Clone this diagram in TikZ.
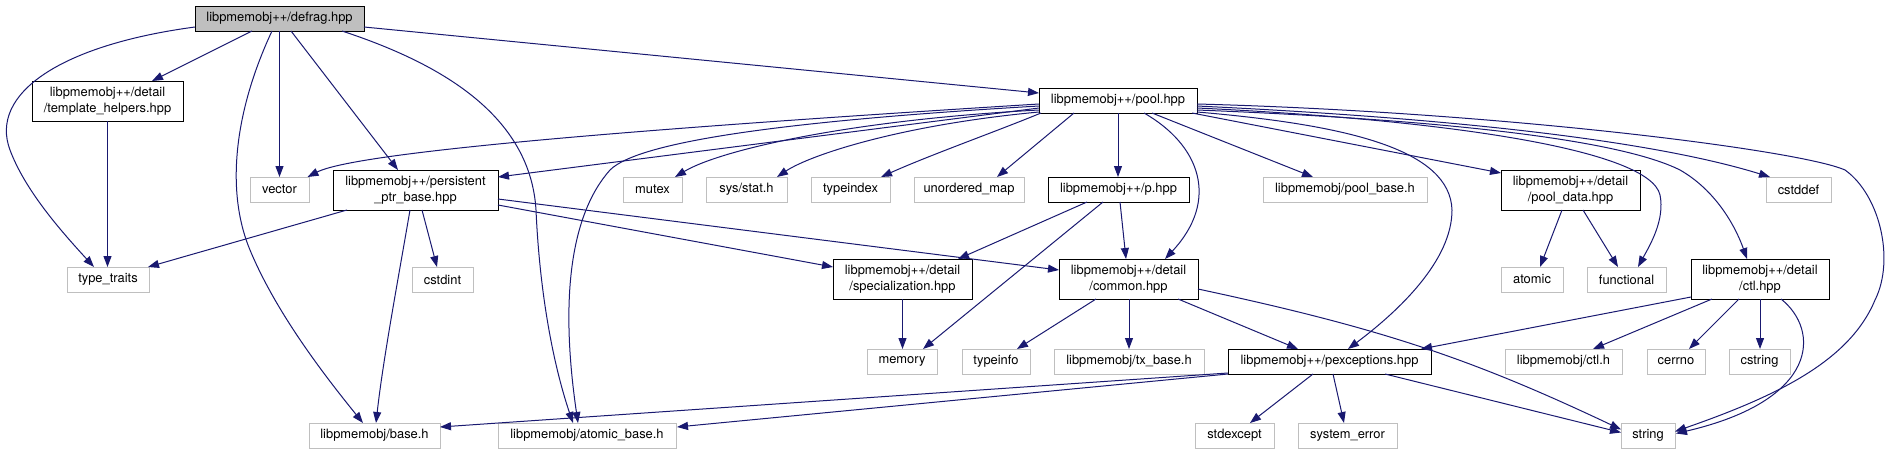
\documentclass[tikz,border=0pt]{standalone}
\usepackage{fontspec}
\setmainfont{TeX Gyre Heros}
\usetikzlibrary{arrows.meta,calc}
\definecolor{edgec}{HTML}{191970}
\definecolor{grayb}{HTML}{BFBFBF}
\begin{document}
\begin{tikzpicture}[x=1pt,y=-1pt,
  box/.style={draw=black, line width=1pt, inner sep=0pt, font=\fontsize{12.9}{16.5}\selectfont, align=center},
  ext/.style={box, draw=grayb},
  edg/.style={draw=edgec, line width=1pt, -{Triangle[length=11pt,width=8pt]}}]
\useasboundingbox (0,0) rectangle (1887,455);
% nodes
\node[box, fill=grayb, minimum width=169pt, minimum height=25pt] (defrag) at (279.5,18.5) {libpmemobj++/defrag.hpp};
\node[box, minimum width=151pt, minimum height=40pt] (tmpl) at (107.5,101) {libpmemobj++/detail\\/template\_helpers.hpp};
\node[ext, minimum width=59pt, minimum height=25pt] (vector) at (279.5,189.5) {vector};
\node[box, minimum width=165pt, minimum height=40pt] (pers) at (415.5,190) {libpmemobj++/persistent\\\_ptr\_base.hpp};
\node[ext, minimum width=82pt, minimum height=25pt] (tt) at (108,279.5) {type\_traits};
\node[ext, minimum width=61pt, minimum height=25pt] (cstdint) at (442.5,279.5) {cstdint};
\node[ext, minimum width=131pt, minimum height=25pt] (base) at (374.5,435.5) {libpmemobj/base.h};
\node[ext, minimum width=59pt, minimum height=25pt] (mutex) at (652.5,189.5) {mutex};
\node[ext, minimum width=81pt, minimum height=25pt] (sysstat) at (746.5,189.5) {sys/stat.h};
\node[ext, minimum width=79pt, minimum height=25pt] (typeindex) at (850.5,189.5) {typeindex};
\node[ext, minimum width=110pt, minimum height=25pt] (umap) at (969,189.5) {unordered\_map};
\node[box, minimum width=139pt, minimum height=40pt] (spec) at (902.5,279) {libpmemobj++/detail\\/specialization.hpp};
\node[ext, minimum width=70pt, minimum height=25pt] (memory) at (902,361.5) {memory};
\node[ext, minimum width=178pt, minimum height=25pt] (abase) at (587,435.5) {libpmemobj/atomic\_base.h};
\node[box, minimum width=158pt, minimum height=25pt] (pool) at (1118,100.5) {libpmemobj++/pool.hpp};
\node[box, minimum width=141pt, minimum height=25pt] (p) at (1118.5,189.5) {libpmemobj++/p.hpp};
\node[ext, minimum width=164pt, minimum height=25pt] (poolbase) at (1345,189.5) {libpmemobj/pool\_base.h};
\node[box, minimum width=139pt, minimum height=40pt] (common) at (1128.5,279) {libpmemobj++/detail\\/common.hpp};
\node[ext, minimum width=68pt, minimum height=25pt] (typeinfo) at (996,361.5) {typeinfo};
\node[ext, minimum width=150pt, minimum height=25pt] (txbase) at (1129,361.5) {libpmemobj/tx\_base.h};
\node[box, minimum width=203pt, minimum height=25pt] (pexc) at (1329.5,361.5) {libpmemobj++/pexceptions.hpp};
\node[ext, minimum width=79pt, minimum height=25pt] (stdexcept) at (1234.5,435.5) {stdexcept};
\node[ext, minimum width=99pt, minimum height=25pt] (syserr) at (1347.5,435.5) {system\_error};
\node[box, minimum width=139pt, minimum height=40pt] (pooldata) at (1570.5,190) {libpmemobj++/detail\\/pool\_data.hpp};
\node[ext, minimum width=65pt, minimum height=25pt] (cstddef) at (1798.5,189.5) {cstddef};
\node[ext, minimum width=62pt, minimum height=25pt] (atomic) at (1532,279.5) {atomic};
\node[ext, minimum width=79pt, minimum height=25pt] (functional) at (1626.5,279.5) {functional};
\node[box, minimum width=138pt, minimum height=40pt] (ctlhpp) at (1760,279) {libpmemobj++/detail\\/ctl.hpp};
\node[ext, minimum width=117pt, minimum height=25pt] (ctlh) at (1563.5,361.5) {libpmemobj/ctl.h};
\node[ext, minimum width=58pt, minimum height=25pt] (cerrno) at (1676,361.5) {cerrno};
\node[ext, minimum width=61pt, minimum height=25pt] (cstring) at (1759.5,361.5) {cstring};
\node[ext, minimum width=54pt, minimum height=25pt] (string) at (1648,435.5) {string};
% edges from defrag
\draw[edg] ($(defrag)+(-27.5,12.5)$) -- ($(tmpl)+(44.5,-20)$);
\draw[edg] ($(defrag)+(0,12.5)$) -- ($(vector)+(0,-12.5)$);
\draw[edg] ($(defrag)+(11.5,12.5)$) -- ($(pers)+(-17.5,-20)$);
\draw[edg] ($(defrag)+(-84.5,8.5)$) .. controls (60,45) and (-11,94) .. (10,150) .. controls (25,190) and (60,230) .. ($(tt)+(-14,-12.5)$);
\draw[edg] ($(defrag)+(-7.5,12.5)$) .. controls (235,110) and (225,190) .. (250,250) .. controls (275,310) and (320,370) .. ($(base)+(-11.5,-12.5)$);
\draw[edg] ($(defrag)+(62.5,12.5)$) .. controls (430,60) and (530,110) .. (536,210) .. controls (540,300) and (555,370) .. ($(abase)+(-14,-12.5)$);
\draw[edg] ($(defrag)+(84.5,8.5)$) -- ($(pool)+(-79,-7.5)$);
% template helpers
\draw[edg] ($(tmpl)+(0,20)$) -- ($(tt)+(-0.5,-12.5)$);
% persistent_ptr_base
\draw[edg] ($(pers)+(-68.5,20)$) -- ($(tt)+(40,-12.5)$);
\draw[edg] ($(pers)+(-5.5,20)$) .. controls (398,280) and (383,360) .. ($(base)+(1.5,-12.5)$);
\draw[edg] ($(pers)+(6.5,20)$) -- ($(cstdint)+(-5.5,-12.5)$);
\draw[edg] ($(pers)+(82.5,15)$) -- ($(spec)+(-69.5,-12)$);
\draw[edg] ($(pers)+(82.5,9)$) -- ($(common)+(-69.5,-9)$);
% pool
\draw[edg] ($(pool)+(-79,3.5)$) .. controls (700,125) and (360,150) .. ($(vector)+(28,-12.5)$);
\draw[edg] ($(pool)+(-79,7.5)$) -- ($(pers)+(82.5,-13)$);
\draw[edg] ($(pool)+(-79,9.5)$) .. controls (850,120) and (720,150) .. ($(mutex)+(22.5,-12.5)$);
\draw[edg] ($(pool)+(-79,11.5)$) .. controls (900,125) and (810,155) .. ($(sysstat)+(30.5,-12.5)$);
\draw[edg] ($(pool)+(-77,12.5)$) .. controls (1000,130) and (930,155) .. ($(typeindex)+(30.5,-12.5)$);
\draw[edg] ($(pool)+(-44,12.5)$) -- ($(umap)+(28,-12.5)$);
\draw[edg] ($(pool)+(0,12.5)$) -- ($(p)+(-0.5,-12.5)$);
\draw[edg] ($(pool)+(26,12.5)$) .. controls (1200,145) and (1220,200) .. ($(common)+(36.5,-20)$);
\draw[edg] ($(pool)+(34,12.5)$) -- ($(poolbase)+(-32,-12.5)$);
\draw[edg] ($(pool)+(74,12.5)$) -- ($(pooldata)+(-69.5,-17)$);
\draw[edg] ($(pool)+(79,7.5)$) .. controls (1450,120) and (1650,150) .. (1660,195) .. controls (1665,220) and (1650,245) .. ($(functional)+(11.5,-12.5)$);
\draw[edg] ($(pool)+(79,9.5)$) .. controls (1450,120) and (1620,140) .. (1680,170) .. controls (1715,190) and (1735,225) .. ($(ctlhpp)+(-13,-20)$);
\draw[edg] ($(pool)+(79,5.5)$) .. controls (1450,118) and (1650,140) .. ($(cstddef)+(-28.5,-12.5)$);
\draw[edg] ($(pool)+(79,3.5)$) .. controls (1500,112) and (1800,150) .. (1845,170) .. controls (1880,195) and (1895,260) .. (1875,300) .. controls (1850,360) and (1780,395) .. ($(string)+(27,-4)$);
\draw[edg] ($(pool)+(79,11.5)$) .. controls (1350,125) and (1450,150) .. (1452,210) .. controls (1452,260) and (1400,310) .. ($(pexc)+(18.5,-12.5)$);
\draw[edg] ($(pool)+(-79,5.5)$) .. controls (800,120) and (640,140) .. (610,170) .. controls (570,215) and (560,300) .. ($(abase)+(-9,-12.5)$);
% p.hpp
\draw[edg] ($(p)+(-31.5,12.5)$) -- ($(spec)+(55.5,-20)$);
\draw[edg] ($(p)+(-15.5,12.5)$) -- ($(memory)+(21,-12.5)$);
\draw[edg] ($(p)+(1.5,12.5)$) -- ($(common)+(-2.5,-20)$);
% specialization
\draw[edg] ($(spec)+(0,20)$) -- ($(memory)+(0.5,-12.5)$);
% common
\draw[edg] ($(common)+(-32.5,20)$) -- ($(typeinfo)+(21,-12.5)$);
\draw[edg] ($(common)+(0.5,20)$) -- ($(txbase)+(0,-12.5)$);
\draw[edg] ($(common)+(49.5,20)$) -- ($(pexc)+(-31.5,-12.5)$);
\draw[edg] ($(common)+(69.5,10)$) .. controls (1380,328) and (1470,358) .. ($(string)+(-27,-6)$);
% pool_data
\draw[edg] ($(pooldata)+(-8.5,20)$) -- ($(atomic)+(8,-12.5)$);
\draw[edg] ($(pooldata)+(12.5,20)$) -- ($(functional)+(-8.5,-12.5)$);
% ctl.hpp
\draw[edg] ($(ctlhpp)+(-69,18)$) -- ($(pexc)+(91.5,-12.5)$);
\draw[edg] ($(ctlhpp)+(-48,20)$) -- ($(ctlh)+(29.5,-12.5)$);
\draw[edg] ($(ctlhpp)+(-21,20)$) -- ($(cerrno)+(13,-12.5)$);
\draw[edg] ($(ctlhpp)+(0,20)$) -- ($(cstring)+(0.5,-12.5)$);
\draw[edg] ($(ctlhpp)+(21,20)$) .. controls (1820,330) and (1820,400) .. ($(string)+(28,-2)$);
% pexceptions
\draw[edg] ($(pexc)+(-101.5,11.5)$) -- ($(base)+(65.5,-8.5)$);
\draw[edg] ($(pexc)+(-101.5,12.5)$) -- ($(abase)+(90,-8.5)$);
\draw[edg] ($(pexc)+(-16.5,12.5)$) -- ($(stdexcept)+(15.5,-12.5)$);
\draw[edg] ($(pexc)+(3.5,12.5)$) -- ($(syserr)+(-3.5,-12.5)$);
\draw[edg] ($(pexc)+(55.5,12.5)$) -- ($(string)+(-27,-3)$);
\end{tikzpicture}
\end{document}
